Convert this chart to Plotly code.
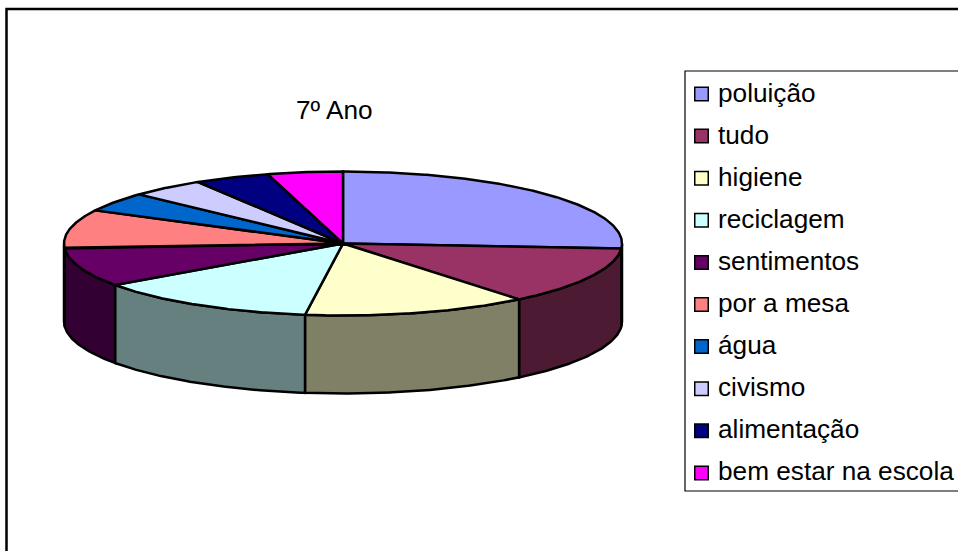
import numpy as np
import plotly.graph_objects as go

TITLE = "7º Ano"
categories = ["poluição", "tudo", "higiene", "reciclagem", "sentimentos",
              "por a mesa", "água", "civismo", "alimentação", "bem estar na escola"]
values = [6, 3, 3, 3, 2, 2, 1, 1, 1, 1]
top_colors = ["#9999FF", "#993366", "#FFFFCC", "#CCFFFF", "#660066",
              "#FF8080", "#0066CC", "#CCCCFF", "#000080", "#FF00FF"]
side_colors = ["#4D4D80", "#4D1A33", "#808066", "#668080", "#330033",
               "#804040", "#003366", "#666680", "#000040", "#800080"]

# Pie geometry in page pixels (the axes map 1:1 onto the page)
W, H = 958, 551
CX, CY, RX, RY, DEPTH = 343, 243.5, 279, 72, 78
LEG_X0, LEG_Y0, LEG_Y1 = 685, 71, 491
LEG_SW_X, LEG_TXT_X, LEG_ROW0, LEG_PITCH = 701.5, 716, 94, 42.1
FONT = "Liberation Sans, Arial, sans-serif"
FS = 26.2
EDGE = 2.5


def arc(a0, a1, dy=0.0):
    t = np.radians(np.linspace(a0, a1, max(2, int(abs(a1 - a0) * 2) + 2)))
    return CX + RX * np.sin(t), CY - RY * np.cos(t) + dy


fig = go.Figure()
edges = np.concatenate([[0], np.cumsum(values)]) / sum(values) * 360.0

# Visible rim: only the part of each slice facing the viewer (90..270 degrees)
for i, name in enumerate(categories):
    a0, a1 = max(edges[i], 90), min(edges[i + 1], 270)
    if a1 <= a0:
        continue
    xt, yt = arc(a0, a1)
    xb, yb = arc(a0, a1, DEPTH)
    fig.add_trace(go.Scatter(
        x=np.r_[xt, xb[::-1], xt[0]], y=np.r_[yt, yb[::-1], yt[0]],
        mode="lines", fill="toself", fillcolor=side_colors[i],
        line=dict(color="black", width=EDGE), name=name, hoverinfo="skip", showlegend=False))

# Top faces
for i, name in enumerate(categories):
    xt, yt = arc(edges[i], edges[i + 1])
    fig.add_trace(go.Scatter(
        x=np.r_[CX, xt, CX], y=np.r_[CY, yt, CY],
        mode="lines", fill="toself", fillcolor=top_colors[i],
        line=dict(color="black", width=EDGE), name=name, hoverinfo="name", showlegend=False))

# Legend swatches and labels
rows = [LEG_ROW0 + LEG_PITCH * i for i in range(len(categories))]
for i, name in enumerate(categories):
    fig.add_trace(go.Scatter(
        x=[LEG_SW_X], y=[rows[i]], mode="markers", name=name, showlegend=False,
        hoverinfo="name",
        marker=dict(symbol="square", size=13.5, color=top_colors[i],
                    line=dict(color="black", width=1.5))))

annotations = [dict(x=LEG_TXT_X, y=rows[i] - 1.5, text=name, xref="x", yref="y", xanchor="left",
                    yanchor="middle", showarrow=False, font=dict(family=FONT, size=FS, color="black"))
               for i, name in enumerate(categories)]
annotations.append(dict(x=334, y=110, text=TITLE, xref="x", yref="y", xanchor="center",
                        yanchor="middle", showarrow=False,
                        font=dict(family=FONT, size=FS, color="black")))

shapes = [
    dict(type="rect", x0=6.5, y0=9, x1=W + 20, y1=H + 20, line=dict(color="black", width=2.5), layer="below"),
    dict(type="rect", x0=LEG_X0, y0=LEG_Y0, x1=W + 20, y1=LEG_Y1, line=dict(color="black", width=1.2), layer="below"),
]

fig.update_layout(
    width=W, height=H, autosize=False,
    margin=dict(l=0, r=0, t=0, b=0),
    paper_bgcolor="white", plot_bgcolor="white",
    showlegend=False,
    xaxis=dict(range=[0, W], visible=False, fixedrange=True),
    yaxis=dict(range=[H, 0], visible=False, fixedrange=True),
    annotations=annotations, shapes=shapes,
)
fig.write_html("out.html", config={"displayModeBar": False},
               post_script="document.body.style.margin='0';document.body.style.overflow='hidden';")
